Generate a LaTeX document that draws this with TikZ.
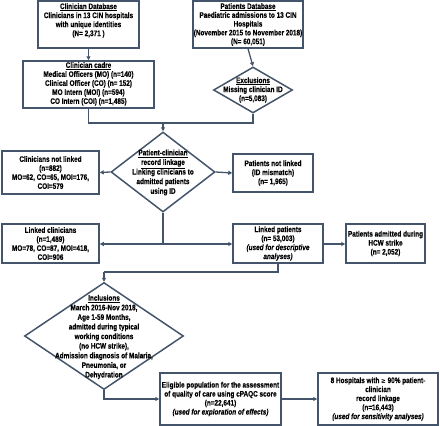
\documentclass[tikz,border=0pt]{standalone}
\usepackage{fontspec}
\setmainfont{Liberation Sans}[FakeStretch=0.8, BoldFeatures={FakeBold=0.3}, BoldItalicFeatures={FakeBold=0.3}]
\usetikzlibrary{shapes.geometric,arrows.meta}
\definecolor{frame}{RGB}{68,84,106}
\tikzset{
  every node/.style={font=\fontsize{8}{9}\selectfont\bfseries, align=center, text=black},
  box/.style={draw=frame, line width=1.5pt, rectangle, inner sep=1pt},
  dia/.style={draw=frame, line width=1.5pt, diamond, inner sep=0pt},
  conn/.style={draw=frame, line width=1.3pt},
  arr/.style={conn, -{Triangle[length=4pt,width=4pt]}},
  dtext/.style={font=\fontsize{8}{9.6}\selectfont\bfseries},
}
\begin{document}
\begin{tikzpicture}[x=1pt,y=-1pt]
\useasboundingbox (0,0) rectangle (440,426);
% boxes
\node[box, minimum width=101pt, minimum height=47pt] (cdb) at (88.5,24.5) {};
\node (cdbt) at (88.5,20.5)
  {\underline{Clinician Database}\\Clinicians in 13 CIN hospitals\\with unique identities\\(N= 2,371 )};
\node[box, minimum width=110pt, minimum height=47pt] (pdb) at (248,24.5) {};
\node[font=\fontsize{8}{8.8}\selectfont\bfseries] (pdbt) at (248,24.5)
  {\underline{Patients Database}\\Paediatric admissions to 13 CIN\\Hospitals\\(November 2015 to November 2018)\\(N= 60,051)};
\node[box, minimum width=131pt, minimum height=47pt] (cad) at (88.5,84.5) {};
\node (cadt) at (88.5,83.8)
  {\underline{Clinician cadre}\\Medical Officers (MO) (n=140)\\Clinical Officer (CO) (n= 152)\\MO Intern (MOI) (n=594)\\CO Intern (COI) (n=1,485)};
\node[dia, minimum width=79pt, minimum height=46pt] (exc) at (253,90) {};
\node (exct) at (253,90) {\underline{Exclusions}\\Missing clinician ID\\(n=5,083)};
\node[dia, minimum width=104pt, minimum height=80pt] (lnk) at (163,172) {};
\node[dtext] (lnkt) at (163,172.5) {\underline{Patient-clinician}\\\underline{record linkage}\\Linking clinicians to\\admitted patients\\using ID};
\node[box, minimum width=97pt, minimum height=43pt] (cnl) at (50.5,172.5)
  {Clinicians not linked\\(n=882)\\MO=62, CO=65, MOI=176,\\COI=579};
\node[box, minimum width=80pt, minimum height=38pt] (pnl) at (273,173)
  {Patients not linked\\(ID mismatch)\\(n= 1,965)};
\node[box, minimum width=97pt, minimum height=39pt] (lc) at (50.5,243.5)
  {Linked clinicians\\(n=1,489)\\MO=78, CO=87, MOI=418,\\COI=906};
\node[box, minimum width=90pt, minimum height=39pt] (lp) at (278,243.5)
  {Linked patients\\(n= 53,003)\\\textit{(used for descriptive}\\\textit{analyses)}};
\node[box, minimum width=79pt, minimum height=39pt] (hcw) at (385.5,243.5)
  {Patients admitted during\\HCW strike\\(n= 2,052)};
\node[dia, minimum width=159pt, minimum height=107pt] (inc) at (104,336) {};
\node[dtext] (inct) at (104,337) {\underline{Inclusions}\\March 2016-Nov 2018,\\Age 1-59 Months,\\admitted during typical\\working conditions\\(no HCW strike),\\Admission diagnosis of Malaria,\\Pneumonia, or\\Dehydration};
\node[box, minimum width=121pt, minimum height=52pt] (elg) at (220.5,399)
  {Eligible population for the assessment\\of quality of care using cPAQC score\\(n=22,641)\\\textit{(used for exploration of effects)}};
\node[box, minimum width=120pt, minimum height=52pt] (h8) at (378,399)
  {8 Hospitals with {\fontspec{DejaVu Sans}[FakeStretch=0.8]\fontsize{7}{9}\selectfont ≥} 90\% patient-\\clinician\\record linkage\\(n=16,443)\\\textit{(used for sensitivity analyses)}};
% junctions
\coordinate (j1) at (163,123);
\coordinate (j2) at (163,244);
\coordinate (j3) at (104,272);
% connectors
\draw[arr] (cdb.south) -- (cad.north);
\draw[arr] (pdb.south) -- (exc.north);
\draw[conn] (cad.south) |- (j1);
\draw[conn] (exc.south) |- (j1);
\draw[arr] (j1) -- (lnk.north);
\draw[arr] (lnk.west) -- (cnl.east);
\draw[arr] (lnk.east) -- (pnl.west);
\draw[conn] (lnk.south) -- (j2);
\draw[arr] (j2) -- (lc.east |- j2);
\draw[arr] (j2) -- (lp.west |- j2);
\draw[arr] (lp.east |- j2) -- (hcw.west |- j2);
\draw[conn] (lp.south) |- (j3);
\draw[arr] (j3) -- (inc.north);
\draw[arr] (inc.south) |- (elg.west);
\draw[arr] (elg.east) -- (h8.west);
\end{tikzpicture}
\end{document}
